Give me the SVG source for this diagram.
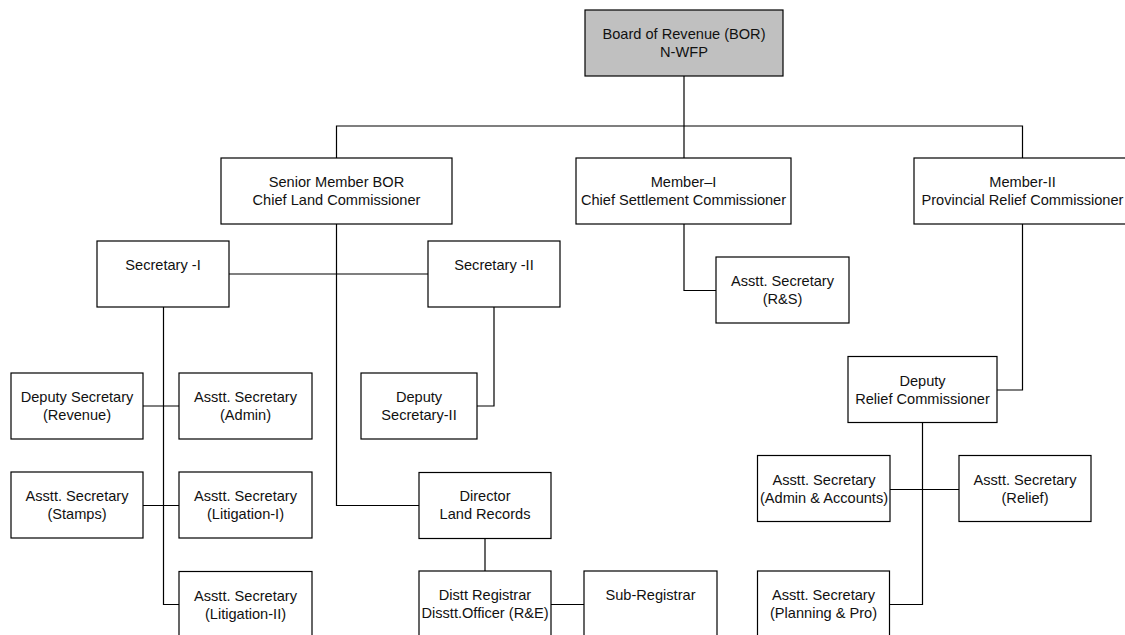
<svg xmlns="http://www.w3.org/2000/svg" width="1125" height="635" viewBox="0 0 1125 635">
<style>
.box{fill:#fff;stroke:#000;stroke-width:1.2}
.top{fill:#c0c0c0;stroke:#000;stroke-width:1.2}
.c{fill:none;stroke:#000;stroke-width:1.2}
text{font-family:"Liberation Sans",Arial,sans-serif;font-size:14.6px;fill:#111;text-anchor:middle}
</style>
<rect width="1125" height="635" fill="#fff"/>
<g id="connectors">
<path class="c" d="M684,76V158"/>
<path class="c" d="M336.5,158V126H1022.5V158"/>
<path class="c" d="M336.5,224V505.5H419"/>
<path class="c" d="M229,274H428"/>
<path class="c" d="M494,307V406H477"/>
<path class="c" d="M163.5,307V604.5H179"/>
<path class="c" d="M143,406H179"/>
<path class="c" d="M143,505.5H179"/>
<path class="c" d="M485,538.5V571"/>
<path class="c" d="M551,604.5H584"/>
<path class="c" d="M684,224V290.5H716"/>
<path class="c" d="M1022.5,224V390H997"/>
<path class="c" d="M922.5,422.5V604.5H889.5"/>
<path class="c" d="M890,489.5H959"/>
</g>
<g id="bor">
<rect class="top" x="585" y="10" width="198" height="66"/>
<text x="684" y="39">Board of Revenue (BOR)</text>
<text x="684" y="57">N-WFP</text>
</g>
<g id="senior-member">
<rect class="box" x="221" y="158" width="231" height="66"/>
<text x="336.5" y="187">Senior Member BOR</text>
<text x="336.5" y="205">Chief Land Commissioner</text>
</g>
<g id="member-1">
<rect class="box" x="576" y="158" width="215" height="66"/>
<text x="683.5" y="187">Member–I</text>
<text x="683.5" y="205">Chief Settlement Commissioner</text>
</g>
<g id="member-2">
<rect class="box" x="914" y="158" width="217" height="66"/>
<text x="1022.5" y="187">Member-II</text>
<text x="1022.5" y="205">Provincial Relief Commissioner</text>
</g>
<g id="secretary-1">
<rect class="box" x="97" y="241" width="132" height="66"/>
<text x="163" y="270">Secretary -I</text>
</g>
<g id="secretary-2">
<rect class="box" x="428" y="241" width="132" height="66"/>
<text x="494" y="270">Secretary -II</text>
</g>
<g id="asstt-rs">
<rect class="box" x="716" y="257" width="133" height="66"/>
<text x="782.5" y="286">Asstt. Secretary</text>
<text x="782.5" y="304">(R&amp;S)</text>
</g>
<g id="deputy-revenue">
<rect class="box" x="11" y="373" width="132" height="66"/>
<text x="77" y="402">Deputy Secretary</text>
<text x="77" y="420">(Revenue)</text>
</g>
<g id="asstt-admin">
<rect class="box" x="179" y="373" width="133" height="66"/>
<text x="245.5" y="402">Asstt. Secretary</text>
<text x="245.5" y="420">(Admin)</text>
</g>
<g id="deputy-secretary-2">
<rect class="box" x="361" y="373" width="116" height="66"/>
<text x="419" y="402">Deputy</text>
<text x="419" y="420">Secretary-II</text>
</g>
<g id="deputy-relief">
<rect class="box" x="848" y="356.5" width="149" height="66"/>
<text x="922.5" y="385.5">Deputy</text>
<text x="922.5" y="403.5">Relief Commissioner</text>
</g>
<g id="asstt-stamps">
<rect class="box" x="11" y="472" width="132" height="66"/>
<text x="77" y="501">Asstt. Secretary</text>
<text x="77" y="519">(Stamps)</text>
</g>
<g id="asstt-litigation-1">
<rect class="box" x="179" y="472" width="133" height="66"/>
<text x="245.5" y="501">Asstt. Secretary</text>
<text x="245.5" y="519">(Litigation-I)</text>
</g>
<g id="director-land-records">
<rect class="box" x="419" y="472.5" width="132" height="66"/>
<text x="485" y="501">Director</text>
<text x="485" y="519">Land Records</text>
</g>
<g id="asstt-admin-accounts">
<rect class="box" x="757.5" y="455.5" width="132.5" height="66"/>
<text x="824" y="484.5">Asstt. Secretary</text>
<text x="824" y="502.5">(Admin &amp; Accounts)</text>
</g>
<g id="asstt-relief">
<rect class="box" x="959" y="455.5" width="132" height="66"/>
<text x="1025" y="484.5">Asstt. Secretary</text>
<text x="1025" y="502.5">(Relief)</text>
</g>
<g id="asstt-litigation-2">
<rect class="box" x="179" y="571.5" width="133" height="66"/>
<text x="245.5" y="600.5">Asstt. Secretary</text>
<text x="245.5" y="618.5">(Litigation-II)</text>
</g>
<g id="distt-registrar">
<rect class="box" x="419" y="571" width="132" height="66"/>
<text x="485" y="600">Distt Registrar</text>
<text x="485" y="618">Disstt.Officer (R&amp;E)</text>
</g>
<g id="sub-registrar">
<rect class="box" x="584" y="571" width="133" height="66"/>
<text x="650.5" y="600">Sub-Registrar</text>
</g>
<g id="asstt-planning">
<rect class="box" x="757.5" y="571" width="132" height="66"/>
<text x="823.5" y="600">Asstt. Secretary</text>
<text x="823.5" y="618">(Planning &amp; Pro)</text>
</g>
</svg>
